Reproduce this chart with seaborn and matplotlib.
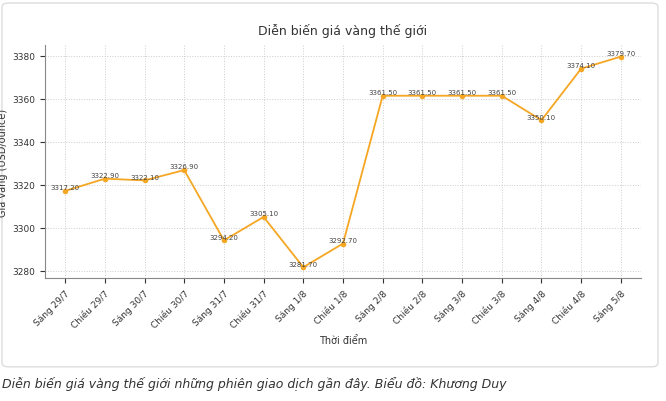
import matplotlib
matplotlib.use("Agg")
import matplotlib.pyplot as plt
import seaborn as sns
import pandas as pd
from matplotlib.patches import FancyBboxPatch

labels = ["Sáng 29/7", "Chiều 29/7", "Sáng 30/7", "Chiều 30/7", "Sáng 31/7", "Chiều 31/7",
          "Sáng 1/8", "Chiều 1/8", "Sáng 2/8", "Chiều 2/8", "Sáng 3/8", "Chiều 3/8",
          "Sáng 4/8", "Chiều 4/8", "Sáng 5/8"]
prices = [3317.20, 3322.90, 3322.10, 3326.90, 3294.20, 3305.10, 3281.70, 3292.70,
          3361.50, 3361.50, 3361.50, 3361.50, 3350.10, 3374.10, 3379.70]
yticks = [3280, 3300, 3320, 3340, 3360, 3380]

df = pd.DataFrame({"t": range(len(labels)), "p": prices})
fig = plt.figure(figsize=(6.66, 4.02), dpi=100)
bg = FancyBboxPatch((0.003, 0.085), 0.985, 0.905, boxstyle="round,pad=0,rounding_size=0.01",
                    transform=fig.transFigure, fc="white", ec="#dddddd", lw=1, zorder=-10)
fig.patches.append(bg)
ax = fig.add_axes([0.068, 0.305, 0.894, 0.58])
ax.patch.set_alpha(0)
sns.lineplot(data=df, x="t", y="p", ax=ax, color="#f5a623", marker="o", markersize=4,
             markeredgewidth=0, linewidth=1.3)
for i, v in enumerate(prices):
    ax.text(i, v + 0.3, f"{v:.2f}", fontsize=5, ha="center", va="bottom", color="#444444")
ax.set_xticks(range(len(labels)))
ax.set_xticklabels(labels, rotation=45, ha="right", rotation_mode="anchor", fontsize=6.5, color="#333333")
ax.set_yticks(yticks)
ax.tick_params(axis="y", labelsize=6.5, colors="#333333")
ax.tick_params(axis="x", colors="#333333")
ax.set_ylim(3276.5, 3385)
ax.set_xlim(-0.5, 14.5)
ax.grid(True, linestyle=":", color="#cccccc", linewidth=0.7)
for s in ["top", "right"]:
    ax.spines[s].set_visible(False)
for s in ["left", "bottom"]:
    ax.spines[s].set_color("#888888")
ax.set_xlabel("Thời điểm", fontsize=7, color="#333333")
ax.set_ylabel("Giá vàng (USD/ounce)", fontsize=7, color="#333333", labelpad=3)
ax.set_title("Diễn biến giá vàng thế giới", fontsize=9, color="#333333", pad=8)
fig.text(0.003, 0.045, "Diễn biến giá vàng thế giới những phiên giao dịch gần đây. Biểu đồ: Khương Duy",
         fontsize=9, style="italic", color="#333333", va="center")
fig.savefig("out.png", dpi=100)
